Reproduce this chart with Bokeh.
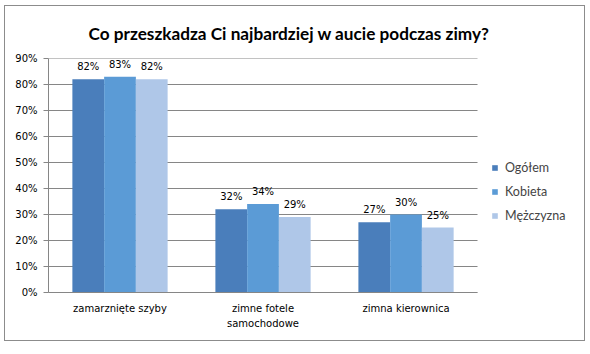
from bokeh.plotting import figure
from bokeh.models import (ColumnDataSource, NumeralTickFormatter, FixedTicker,
                          Legend, LegendItem, Range1d, LinearAxis)
from bokeh.transform import dodge
from bokeh.core.properties import value
from bokeh.embed import file_html
from bokeh.resources import INLINE

categories = ["zamarznięte szyby", "zimne fotele samochodowe", "zimna kierownica"]
label_line1 = ["zamarznięte szyby", "zimne fotele", "zimna kierownica"]
label_line2 = ["", "samochodowe", ""]
series_names = ["Ogółem", "Kobieta", "Mężczyzna"]
ogolem = [0.82, 0.32, 0.27]
kobieta = [0.83, 0.34, 0.30]
mezczyzna = [0.82, 0.29, 0.25]
y_ticks = [0, 0.1, 0.2, 0.3, 0.4, 0.5, 0.6, 0.7, 0.8, 0.9]
title = "Co przeszkadza Ci najbardziej w aucie podczas zimy?"

colors = ["#4A7EBB", "#5B9BD6", "#AFC7E8"]
series_values = [ogolem, kobieta, mezczyzna]
offsets = [-0.222, 0.0, 0.222]
xpos = [i + 0.5 for i in range(len(categories))]
n_cat = len(categories)

p = figure(width=581, height=336, x_range=Range1d(0, 3.762), y_range=Range1d(0, 0.9),
           output_backend="svg", toolbar_location=None, title=title,
           min_border_left=43, min_border_right=0, min_border_top=49, min_border_bottom=50)
p.styles = {"border": "1px solid #8C8C8C", "margin-left": "4px", "margin-top": "5px"}
p.background_fill_color = "white"
p.border_fill_color = "white"
p.outline_line_color = None

p.title.align = "left"
p.title.text_font = "Lato"
p.title.text_font_size = "17.2px"
p.title.text_font_style = "bold"
p.title.text_color = "black"
p.title.offset = 40
p.title.standoff = 29

# gridlines limited to the category area
p.segment(x0=[0] * len(y_ticks), x1=[n_cat] * len(y_ticks), y0=y_ticks, y1=y_ticks,
          line_color="#868686", line_width=1)

renderers = []
for name, vals, col, off in zip(series_names, series_values, colors, offsets):
    src = ColumnDataSource(dict(x=xpos, val=vals,
                                lbl=[f"{round(v*100)}%" for v in vals]))
    r = p.vbar(x=dodge("x", off), top="val", width=0.222, source=src,
               fill_color=col, line_color=None)
    p.text(x=dodge("x", off), y="val", text="lbl", source=src,
           text_align="center", text_baseline="bottom", y_offset=-7,
           text_font=value("DejaVu Sans"), text_font_size="10px", text_color="black")
    renderers.append(r)

p.yaxis.ticker = FixedTicker(ticks=y_ticks)
p.yaxis.formatter = NumeralTickFormatter(format="0%")
p.yaxis.major_label_text_font = "DejaVu Sans"
p.yaxis.major_label_text_font_size = "10px"
p.yaxis.major_label_text_color = "black"
p.yaxis.axis_line_color = "#868686"
p.yaxis.major_tick_line_color = "#868686"
p.yaxis.major_tick_out = 5
p.yaxis.major_tick_in = 0
p.yaxis.minor_tick_line_color = None
p.yaxis.major_label_standoff = 6

p.xaxis.ticker = FixedTicker(ticks=xpos)
p.xaxis.bounds = (0, n_cat)
p.xaxis.major_label_overrides = {x: t for x, t in zip(xpos, label_line1)}
p.xaxis.major_label_text_font = "DejaVu Sans"
p.xaxis.major_label_text_font_size = "10px"
p.xaxis.major_label_text_color = "black"
p.xaxis.axis_line_color = "#868686"
p.xaxis.major_tick_line_color = None
p.xaxis.minor_tick_line_color = None
p.xaxis.major_tick_out = 0
p.xaxis.minor_tick_out = 0
p.xaxis.major_label_standoff = 10

ax2 = LinearAxis(ticker=FixedTicker(ticks=xpos),
                 major_label_overrides={x: (t if t else " ") for x, t in zip(xpos, label_line2)},
                 major_label_text_font="DejaVu Sans", major_label_text_font_size="10px",
                 major_label_text_color="black", axis_line_color=None,
                 major_tick_line_color=None, minor_tick_line_color=None,
                 major_tick_out=0, minor_tick_out=0,
                 major_label_standoff=1)
p.add_layout(ax2, "below")

p.xgrid.grid_line_color = None
p.ygrid.grid_line_color = None

legend = Legend(items=[LegendItem(label=n, renderers=[r]) for n, r in zip(series_names, renderers)],
                location=(443, 69), orientation="vertical")
legend.label_text_font = "Lato"
legend.label_text_font_size = "12.5px"
legend.glyph_width = 7
legend.glyph_height = 7
legend.label_height = 13
legend.spacing = 9
legend.padding = 0
legend.margin = 0
legend.label_standoff = 7
legend.border_line_color = None
legend.background_fill_alpha = 0
p.add_layout(legend, "center")

open("out.html", "w").write(file_html(p, INLINE))
